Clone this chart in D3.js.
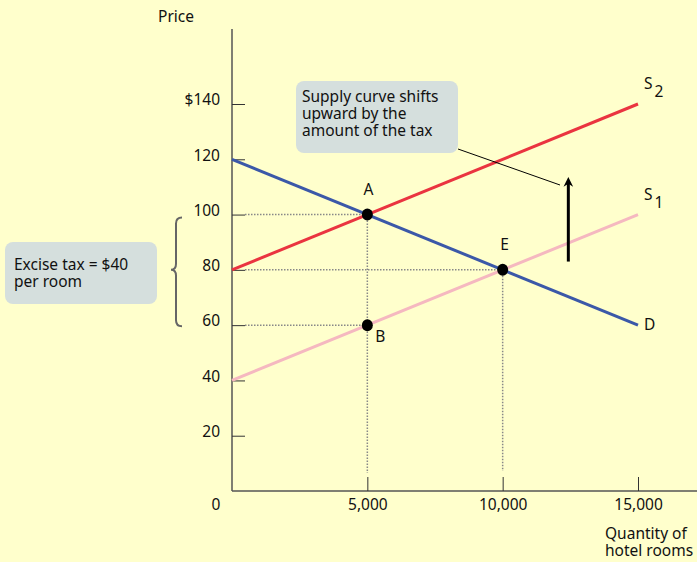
<!DOCTYPE html>
<html><head><meta charset="utf-8">
<script src="https://cdn.jsdelivr.net/npm/d3@7"></script>
<style>
html,body{margin:0;padding:0;background:#ffffcc;}
text{font-family:"Noto Sans",sans-serif;fill:#111;}
</style></head>
<body>
<svg id="c" width="697" height="562"></svg>
<script>
// Data
const priceTicks = [20, 40, 60, 80, 100, 120, 140];
const quantityTicks = [5000, 10000, 15000];
const demandD = [[0, 120], [15000, 60]];
const supplyS1 = [[0, 40], [15000, 100]];
const supplyS2 = [[0, 80], [15000, 140]];
const points = [
  {name: "A", q: 5000, p: 100},
  {name: "E", q: 10000, p: 80},
  {name: "B", q: 5000, p: 60}
];
const arrowQ = 12500, arrowFrom = 83, arrowTo = 114;

const FS = "15.5px";
const svg = d3.select("#c");
const x = d3.scaleLinear().domain([0, 15000]).range([232, 638]);
const y = d3.scaleLinear().domain([0, 140]).range([491, 104]);
const line = d3.line().x(d => x(d[0])).y(d => y(d[1]));

svg.append("rect").attr("width", 697).attr("height", 562).attr("fill", "#ffffcc");

// Axes
svg.append("line").attr("x1", 232).attr("x2", 232).attr("y1", 29).attr("y2", 491).attr("stroke", "#555").attr("stroke-width", 1.5);
svg.append("line").attr("x1", 232).attr("x2", 697).attr("y1", 491).attr("y2", 491).attr("stroke", "#555").attr("stroke-width", 1.5);

const yAxis = d3.axisRight(y).tickValues(priceTicks).tickSize(13).tickFormat(d => d === 140 ? "$140" : d);
const gy = svg.append("g").attr("transform", "translate(232,0)").call(yAxis);
gy.select(".domain").remove();
gy.selectAll(".tick line").attr("stroke", "#333");
gy.selectAll(".tick text").attr("x", -12).attr("text-anchor", "end").attr("dy", "0.05em").style("font-size", FS).style("font-family", "Noto Sans").attr("fill", "#111");

const xAxis = d3.axisTop(x).tickValues(quantityTicks).tickSize(14).tickFormat(d3.format(","));
const gx = svg.append("g").attr("transform", "translate(0,491)").call(xAxis);
gx.select(".domain").remove();
gx.selectAll(".tick line").attr("stroke", "#333");
gx.selectAll(".tick text").attr("y", 19).attr("dy", "0").style("font-size", FS).style("font-family", "Noto Sans").attr("fill", "#111");
svg.append("text").attr("x", 216).attr("y", 510).attr("text-anchor", "middle").style("font-size", FS).text("0");

svg.append("text").attr("x", 158).attr("y", 22).style("font-size", FS).text("Price");
svg.append("text").attr("x", 605).attr("y", 539).style("font-size", FS).text("Quantity of");
svg.append("text").attr("x", 605).attr("y", 556).style("font-size", FS).text("hotel rooms");

// Dotted guides
const dot = {stroke: "#888", "stroke-width": 1.5, "stroke-dasharray": "1.5,1.5"};
function guide(x1, y1, x2, y2) {
  const l = svg.append("line").attr("x1", x1).attr("y1", y1).attr("x2", x2).attr("y2", y2);
  Object.entries(dot).forEach(([k, v]) => l.attr(k, v));
}
guide(x(0) + 13, y(100), x(5000), y(100));
guide(x(5000), y(100), x(5000), 473);
guide(x(0) + 13, y(80), x(10000), y(80));
guide(x(10000), y(80), x(10000), 471);
guide(x(0) + 13, y(60), x(5000), y(60));

// Curves
svg.append("path").datum(supplyS1).attr("d", line).attr("stroke", "#f5b8c0").attr("stroke-width", 3).attr("fill", "none");
svg.append("path").datum(demandD).attr("d", line).attr("stroke", "#3b58a8").attr("stroke-width", 3).attr("fill", "none");
svg.append("path").datum(supplyS2).attr("d", line).attr("stroke", "#ea3440").attr("stroke-width", 3).attr("fill", "none");

// Points
svg.selectAll("ellipse.pt").data(points).enter().append("ellipse")
  .attr("cx", d => x(d.q)).attr("cy", d => y(d.p)).attr("rx", 5.5).attr("ry", 6).attr("fill", "#000");
const lblOff = {A: [1, -20], E: [2, -20], B: [13, 17]};
svg.selectAll("text.pt").data(points).enter().append("text")
  .attr("x", d => x(d.q) + lblOff[d.name][0]).attr("y", d => y(d.p) + lblOff[d.name][1])
  .attr("text-anchor", "middle").style("font-size", FS).text(d => d.name);

// Curve labels
function curveLabel(data, main, sub, dx, dy) {
  const last = data[data.length - 1];
  const t = svg.append("text").attr("x", x(last[0]) + dx).attr("y", y(last[1]) + dy).style("font-size", FS);
  t.append("tspan").text(main);
  if (sub) t.append("tspan").attr("dx", 2).attr("dy", 8).text(sub);
}
curveLabel(supplyS2, "S", "2", 6, -15);
curveLabel(supplyS1, "S", "1", 6, -15);
curveLabel(demandD, "D", null, 6, 5);

// Arrow
svg.append("defs").append("marker").attr("id", "ah").attr("viewBox", "0 0 10 10").attr("refX", 5).attr("refY", 5)
  .attr("markerWidth", 3.2).attr("markerHeight", 4.5).attr("orient", "auto")
  .append("path").attr("d", "M0,0 L10,5 L0,10 L3,5 Z").attr("fill", "#000");
svg.append("line").attr("x1", x(arrowQ) - 2).attr("x2", x(arrowQ) - 2).attr("y1", y(arrowFrom)).attr("y2", y(arrowTo) + 6)
  .attr("stroke", "#000").attr("stroke-width", 3).attr("marker-end", "url(#ah)");

// Annotation box top
svg.append("line").attr("x1", 458).attr("y1", 149).attr("x2", 560).attr("y2", 185).attr("stroke", "#000").attr("stroke-width", 1);
svg.append("rect").attr("x", 296).attr("y", 81).attr("width", 162).attr("height", 72).attr("rx", 8).attr("fill", "#d5dfdd");
["Supply curve shifts", "upward by the", "amount of the tax"].forEach((s, i) => {
  svg.append("text").attr("x", 302).attr("y", 102 + i * 17).style("font-size", FS).text(s);
});

// Excise box
svg.append("rect").attr("x", 5).attr("y", 242).attr("width", 152).attr("height", 62).attr("rx", 8).attr("fill", "#d5dfdd");
svg.append("text").attr("x", 14).attr("y", 270).style("font-size", FS).text("Excise tax = $40");
svg.append("text").attr("x", 14).attr("y", 287).style("font-size", FS).text("per room");

// Brace
const bx = 176, bt = y(100) + 3, bb = y(60) + 1, bm = y(80);
svg.append("path").attr("d",
  `M${bx + 6},${bt} Q${bx},${bt} ${bx},${bt + 6} L${bx},${bm - 6} Q${bx},${bm} ${bx - 5},${bm}` +
  ` Q${bx},${bm} ${bx},${bm + 6} L${bx},${bb - 6} Q${bx},${bb} ${bx + 6},${bb}`)
  .attr("fill", "none").attr("stroke", "#666").attr("stroke-width", 2);
</script>
</body></html>
